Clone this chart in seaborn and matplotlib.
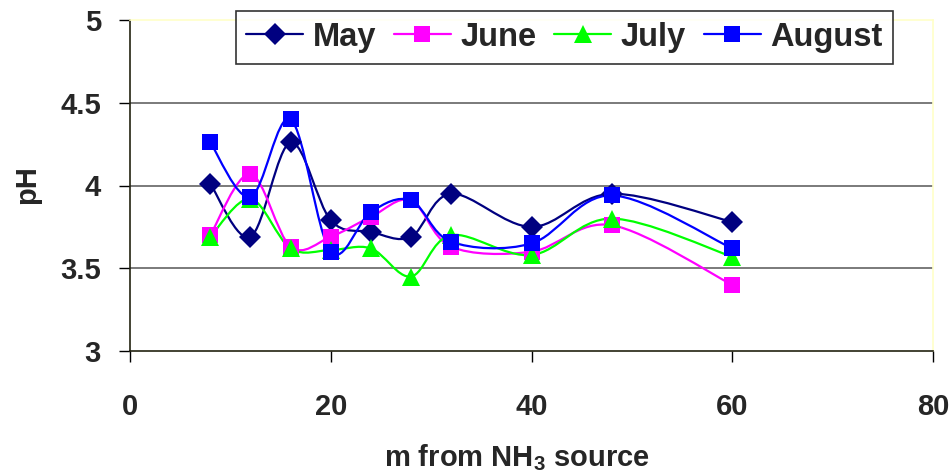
import numpy as np
import pandas as pd
import matplotlib
matplotlib.use("Agg")
import matplotlib.pyplot as plt
import seaborn as sns
from matplotlib.path import Path
from matplotlib.patches import PathPatch
from matplotlib.lines import Line2D

distance = [8, 12, 16, 20, 24, 28, 32, 40, 48, 60]
may = [4.01, 3.69, 4.26, 3.79, 3.72, 3.69, 3.95, 3.75, 3.95, 3.78]
june = [3.70, 4.07, 3.63, 3.69, 3.81, 3.91, 3.63, 3.60, 3.76, 3.40]
july = [3.69, 3.92, 3.62, 3.61, 3.62, 3.45, 3.70, 3.58, 3.80, 3.57]
august = [4.26, 3.93, 4.40, 3.60, 3.84, 3.91, 3.66, 3.65, 3.94, 3.62]
series_names = ["May", "June", "July", "August"]
series_values = [may, june, july, august]
colors = ["#000080", "#FF00FF", "#00FF00", "#0000FF"]
markers = ["D", "s", "^", "s"]
msizes = [11, 12, 13, 12]

sns.set_theme(style="white")
plt.rcParams["font.family"] = ["Liberation Sans", "DejaVu Sans"]
plt.rcParams["font.weight"] = "bold"
plt.rcParams["mathtext.fontset"] = "custom"
plt.rcParams["mathtext.bf"] = "Liberation Sans:bold"
plt.rcParams["mathtext.rm"] = "Liberation Sans:bold"

fig = plt.figure(figsize=(9.52, 4.75), dpi=100)
ax = fig.add_axes([130/952, 1-351/475, 803/952, 331/475])


def smooth_path(xs, ys):
    pts = np.column_stack([xs, ys]).astype(float)
    n = len(pts)
    verts = [pts[0]]
    codes = [Path.MOVETO]
    for i in range(n - 1):
        p0 = pts[i - 1] if i > 0 else pts[i]
        p1 = pts[i]
        p2 = pts[i + 1]
        p3 = pts[i + 2] if i + 2 < n else pts[i + 1]
        c1 = p1 + (p2 - p0) / 6.0
        c2 = p2 - (p3 - p1) / 6.0
        verts += [c1, c2, p2]
        codes += [Path.CURVE4] * 3
    return Path(verts, codes)


handles = []
for name, vals, c, m, ms in zip(series_names, series_values, colors, markers, msizes):
    df = pd.DataFrame({"x": distance, "y": vals})
    patch = PathPatch(smooth_path(df["x"], df["y"]), facecolor="none",
                      edgecolor=c, lw=1.6, zorder=3)
    ax.add_patch(patch)
    ax.plot(df["x"], df["y"], linestyle="none", marker=m, markersize=ms,
            color=c, markeredgecolor=c, markeredgewidth=0, zorder=4)
    handles.append(Line2D([0], [0], color=c, lw=1.6, marker=m, markersize=ms,
                          markeredgewidth=0, label=name))

ax.set_xlim(0, 80)
ax.set_ylim(3, 5)
ax.set_xticks([0, 20, 40, 60, 80])
ax.set_yticks([3, 3.5, 4, 4.5, 5])
ax.set_yticklabels(["3", "3.5", "4", "4.5", "5"])
for yv in [3.5, 4, 4.5]:
    ax.axhline(yv, color="#707070", lw=1.3, zorder=1)

for s in ["top", "right"]:
    ax.spines[s].set_color("#FFFFC8")
    ax.spines[s].set_linewidth(1.2)
for s in ["left", "bottom"]:
    ax.spines[s].set_color("#222211")
    ax.spines[s].set_linewidth(1.2)

ax.tick_params(axis="both", direction="out", length=8, width=1, color="black",
               labelsize=21, bottom=True, left=True)
ax.tick_params(axis="x", pad=22)
ax.tick_params(axis="y", pad=13)
for lab in ax.get_xticklabels() + ax.get_yticklabels():
    lab.set_fontweight("bold")

fig.text(27/952, 1-185/475, "pH", rotation=90, ha="center", va="center",
         fontsize=21, fontweight="bold")
fig.text(517/952, 1-458/475, "m from NH$_\\mathbf{3}$ source", ha="center", va="center",
         fontsize=21, fontweight="bold")

leg = fig.legend(handles=handles, loc="upper right", bbox_to_anchor=(893/952, 1-11/475),
                 ncol=4, frameon=True, fancybox=False, shadow=False,
                 prop={"size": 23.5, "weight": "bold"}, handlelength=1.75,
                 columnspacing=0.55, handletextpad=0.28, borderpad=0.33, borderaxespad=0)
leg.get_frame().set_edgecolor("black")
leg.get_frame().set_linewidth(1.2)

fig.savefig("out.png", dpi=100)
